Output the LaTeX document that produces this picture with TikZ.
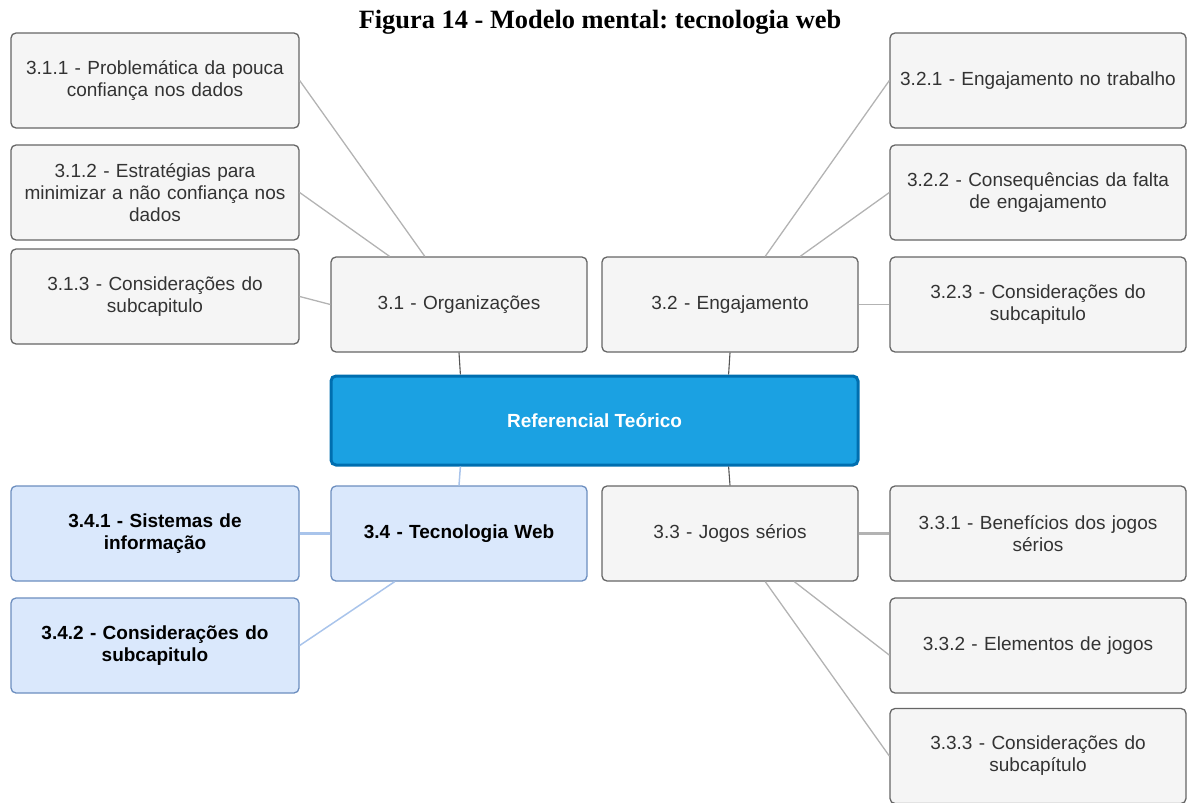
\documentclass[tikz,border=0pt]{standalone}
\usepackage{fontspec}
\setmainfont{Liberation Sans}
\newfontfamily\titlefont{Liberation Serif}
\usetikzlibrary{calc}
\frenchspacing
\definecolor{boxfill}{HTML}{F5F5F5}
\definecolor{boxline}{HTML}{666666}
\definecolor{boxtext}{HTML}{333333}
\definecolor{bluefill}{HTML}{DAE8FC}
\definecolor{blueline}{HTML}{6C8EBF}
\definecolor{bluelink}{HTML}{A9C4EB}
\definecolor{rootfill}{HTML}{1BA1E2}
\definecolor{rootline}{HTML}{006EAF}
\definecolor{graylink}{HTML}{B3B3B3}
\definecolor{darklink}{HTML}{555555}
\tikzset{
  topic/.style={draw=boxline, fill=boxfill, line width=1.3pt, rounded corners=5pt,
    align=center, inner sep=0pt, text=boxtext,
    font=\fontsize{19}{22}\selectfont},
  sidebox/.style={topic, minimum width=288pt, minimum height=95pt, text width=280pt},
  rightbox/.style={topic, minimum width=296pt, minimum height=95pt, text width=288pt},
  midbox/.style={topic, minimum width=256pt, minimum height=95pt, text width=248pt},
  webbox/.style={fill=bluefill, draw=blueline, text=black,
    font=\fontsize{19}{22}\selectfont\bfseries},
  rootbox/.style={draw=rootline, fill=rootfill, line width=3pt, rounded corners=5pt,
    minimum width=527pt, minimum height=89pt, inner sep=0pt, text=white,
    font=\fontsize{19}{22}\selectfont\bfseries},
  link/.style={draw=graylink, line width=1.3pt},
  stem/.style={draw=darklink, line width=1.1pt},
  weblink/.style={draw=bluelink, line width=1.5pt},
}
\begin{document}
\begin{tikzpicture}[x=1pt, y=-1pt]
\useasboundingbox (0,0) rectangle (1187,803);

% title
\node[anchor=base, font=\titlefont\fontsize{26.4}{30}\selectfont\bfseries] (title) at (600,28)
  {Figura 14 - Modelo mental: tecnologia web};

% central topic
\node[rootbox] (root) at (594.5,420.5) {Referencial Teórico};

% second level
\node[midbox] (org) at (459,304.5) {3.1 - Organizações};
\node[midbox] (eng) at (730,304.5) {3.2 - Engajamento};
\node[midbox, webbox] (web) at (459,533.5) {3.4 - Tecnologia Web};
\node[midbox] (jog) at (730,533.5) {3.3 - Jogos sérios};

% 3.1 branch
\node[sidebox] (o1) at (155,80.5) {3.1.1 - Problemática da pouca\\confiança nos dados};
\node[sidebox] (o2) at (155,192.5) {3.1.2 - Estratégias para\\minimizar a não confiança nos\\dados};
\node[sidebox] (o3) at (155,296.5) {3.1.3 - Considerações do\\subcapitulo};

% 3.2 branch
\node[rightbox] (e1) at (1038,80.5) {3.2.1 - Engajamento no trabalho};
\node[rightbox] (e2) at (1038,192.5) {3.2.2 - Consequências da falta\\de engajamento};
\node[rightbox] (e3) at (1038,304.5) {3.2.3 - Considerações do\\subcapitulo};

% 3.4 branch
\node[sidebox, webbox] (w1) at (155,533.5) {3.4.1 - Sistemas de\\informação};
\node[sidebox, webbox] (w2) at (155,645.5) {3.4.2 - Considerações do\\subcapitulo};

% 3.3 branch
\node[rightbox] (j1) at (1038,533.5) {3.3.1 - Benefícios dos jogos\\sérios};
\node[rightbox] (j2) at (1038,645.5) {3.3.2 - Elementos de jogos};
\node[rightbox] (j3) at (1038,756) {3.3.3 - Considerações do\\subcapítulo};

% connectors
\draw[link] (o1.east) -- ($(org.north west)!0.367!(org.north east)$);
\draw[link] (o2.east) -- ($(org.north west)!0.23!(org.north east)$);
\draw[link] (o3.east) -- (org.west);
\draw[stem] (org.south) -- ($(root.north west)!0.247!(root.north east)$);

\draw[link] (e1.west) -- ($(eng.north west)!0.637!(eng.north east)$);
\draw[link] (e2.west) -- ($(eng.north west)!0.773!(eng.north east)$);
\draw[link] (e3.west) -- (eng.east);
\draw[stem] (eng.south) -- ($(root.north west)!0.753!(root.north east)$);

\draw[weblink] ($(root.south west)!0.247!(root.south east)$) -- (web.north);
\draw[weblink, line width=2.5pt] (w1.east) -- (web.west);
\draw[weblink] (w2.east) -- ($(web.south west)!0.25!(web.south east)$);

\draw[stem] ($(root.south west)!0.753!(root.south east)$) -- (jog.north);
\draw[link, line width=2.5pt] (j1.west) -- (jog.east);
\draw[link] ($(j2.north west)!0.6!(j2.south west)$) -- ($(jog.south west)!0.75!(jog.south east)$);
\draw[link] (j3.west) -- ($(jog.south west)!0.637!(jog.south east)$);
\end{tikzpicture}
\end{document}
